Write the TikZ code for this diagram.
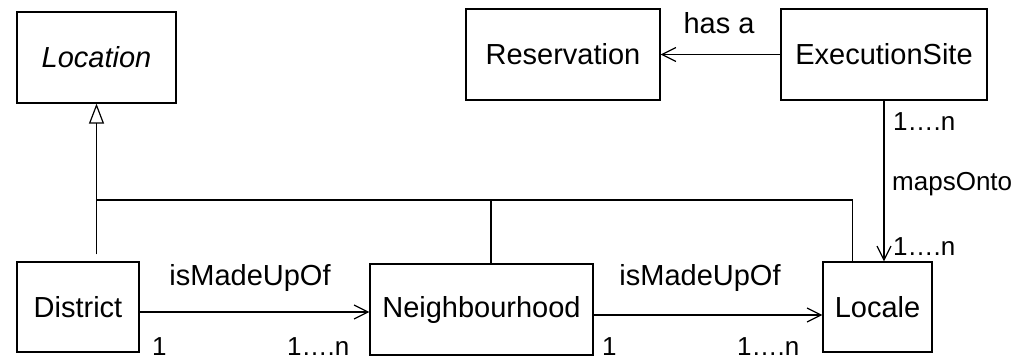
\documentclass[tikz,border=0pt]{standalone}
\usepackage{fontspec}
\setmainfont{Liberation Sans}
\usetikzlibrary{arrows.meta}
\tikzset{
	cls/.style={draw, line width=1.2pt, inner sep=0pt, font=\fontsize{29}{34}\selectfont},
	lbl/.style={inner sep=0pt, anchor=base, font=\fontsize{29}{34}\selectfont},
	mult/.style={inner sep=0pt, anchor=base west, font=\fontsize{26}{30}\selectfont},
	assoc/.style={line width=1.2pt, -{Straight Barb[length=14pt,width=14pt]}},
	gen/.style={line width=1.2pt, -{Triangle[open,length=20pt,width=15pt]}},
	bus/.style={line width=1.2pt},
}
\begin{document}
\begin{tikzpicture}[x=1pt,y=-1pt]
	\useasboundingbox (0,0) rectangle (1015,359);
	\node[cls, minimum width=159pt, minimum height=91pt] (location) at (96.5,57.5) {\itshape Location};
	\node[cls, minimum width=194pt, minimum height=91pt] (reservation) at (563,54.5) {Reservation};
	\node[cls, minimum width=206pt, minimum height=91pt] (execsite) at (884,54.5) {ExecutionSite};
	\node[cls, minimum width=122pt, minimum height=90pt] (district) at (78,307) {District};
	\node[cls, minimum width=223pt, minimum height=91pt] (nbh) at (481.5,309.5) {Neighbourhood};
	\node[cls, minimum width=109pt, minimum height=90pt] (locale) at (877.5,307) {Locale};
	\coordinate (busleft) at (96.5,200);
	\draw[gen] ([yshift=7pt]location.south |- district.north) -- (location.south);
	\draw[bus] (busleft) -| ([xshift=30pt]locale.north west);
	\draw[bus] ([xshift=9.5pt]nbh.north) -- ([xshift=9.5pt]nbh.north |- busleft);
	\draw[assoc] (execsite.west) -- (reservation.east);
	\draw[assoc] (execsite.south) -- (execsite.south |- locale.north);
	\draw[assoc] ([yshift=-5pt]district.east) -- ([yshift=-5pt]district.east -| nbh.west);
	\draw[assoc] ([yshift=-5.5pt]nbh.east) -- ([yshift=-5.5pt]nbh.east -| locale.west);
	\node[lbl] (hasa) at (719,33) {has a};
	\node[lbl] (madeup1) at (250,285) {isMadeUpOf};
	\node[lbl] (madeup2) at (700,285) {isMadeUpOf};
	\node[mult] (mapsonto) at (892,190) {mapsOnto};
	\node[mult] (m1) at (893,130) {1….n};
	\node[mult] (m2) at (893,255) {1….n};
	\node[mult] (m3) at (152,355) {1};
	\node[mult] (m4) at (287,355) {1….n};
	\node[mult] (m5) at (602,355) {1};
	\node[mult] (m6) at (737,355) {1….n};
\end{tikzpicture}
\end{document}
